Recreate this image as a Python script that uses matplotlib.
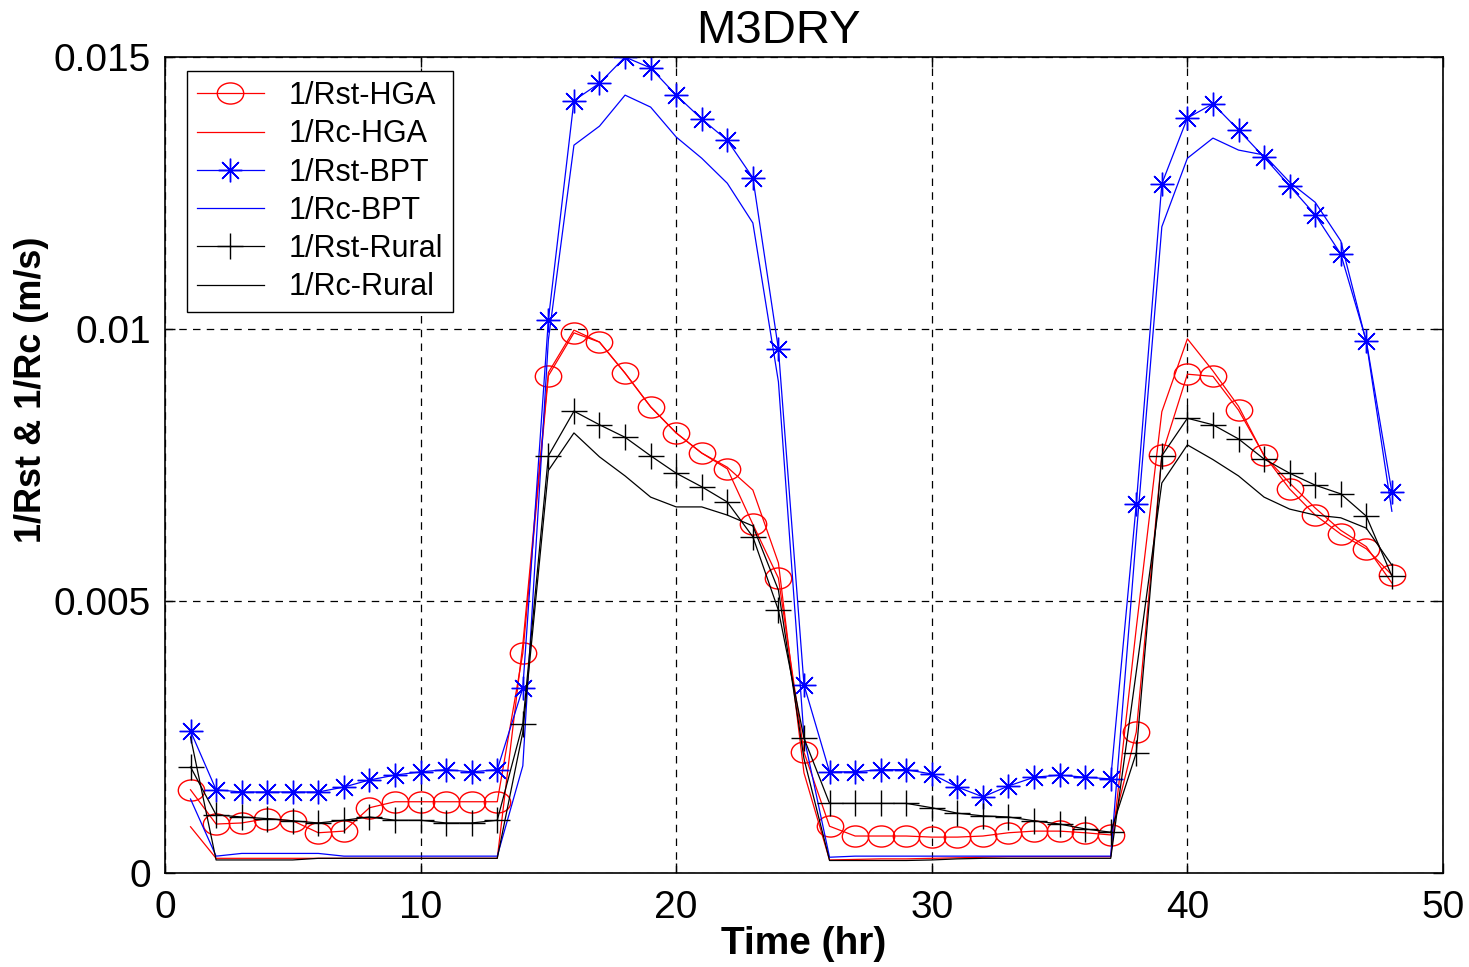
import matplotlib
matplotlib.use("Agg")
import matplotlib.pyplot as plt
import numpy as np
from matplotlib.path import Path
from matplotlib.transforms import Affine2D

plt.rcParams['font.family'] = ['Liberation Sans', 'DejaVu Sans']

hours = list(range(1, 49))

rst_hga = [0.00153, 0.0009, 0.00092, 0.001, 0.00096, 0.00074, 0.00077, 0.0012,
           0.00131, 0.00131, 0.00131, 0.00131, 0.00131, 0.00404, 0.00914, 0.00993,
           0.00976, 0.00919, 0.00857, 0.00809, 0.00772, 0.00743, 0.00641, 0.00542,
           0.00222, 0.00086, 0.00068, 0.00068, 0.00068, 0.00066, 0.00066, 0.00068,
           0.00074, 0.00077, 0.00077, 0.00074, 0.0007, 0.00259, 0.00768, 0.00917,
           0.00913, 0.00851, 0.00768, 0.00706, 0.00658, 0.00623, 0.00596, 0.00548]

rc_hga = [0.00085, 0.00027, 0.00027, 0.00027, 0.00027, 0.00027, 0.00027, 0.00027,
          0.00027, 0.00027, 0.00027, 0.00027, 0.00027, 0.0042, 0.0092, 0.00998,
          0.00976, 0.00919, 0.00857, 0.00809, 0.00772, 0.00746, 0.00704, 0.0057,
          0.00184, 0.00024, 0.00025, 0.00026, 0.00026, 0.00027, 0.00028, 0.00029,
          0.0003, 0.0003, 0.0003, 0.0003, 0.0003, 0.0045, 0.00848, 0.00982,
          0.00923, 0.00858, 0.00767, 0.00717, 0.00671, 0.0063, 0.006, 0.00533]

rst_bpt = [0.00261, 0.00153, 0.00149, 0.00149, 0.00149, 0.00149, 0.00158, 0.00171,
           0.0018, 0.00186, 0.0019, 0.00186, 0.0019, 0.0034, 0.01017, 0.0142,
           0.01452, 0.0150, 0.0148, 0.0143, 0.01386, 0.01347, 0.01278, 0.00963,
           0.00346, 0.00186, 0.00186, 0.0019, 0.0019, 0.00182, 0.00158, 0.0014,
           0.0016, 0.00176, 0.0018, 0.00176, 0.00173, 0.00678, 0.01267, 0.01388,
           0.01414, 0.01366, 0.01316, 0.01263, 0.0121, 0.01138, 0.00978, 0.007]

rc_bpt = [0.00136, 0.00031, 0.00036, 0.00036, 0.00036, 0.00036, 0.00031, 0.00031,
          0.00031, 0.00031, 0.00031, 0.00031, 0.00031, 0.00197, 0.0098, 0.01338,
          0.01373, 0.0143, 0.01408, 0.01353, 0.01314, 0.01268, 0.01195, 0.00903,
          0.0025, 0.00029, 0.00031, 0.00031, 0.00031, 0.00031, 0.00031, 0.00031,
          0.00031, 0.00031, 0.00031, 0.00031, 0.00031, 0.0062, 0.01188, 0.01314,
          0.01351, 0.01329, 0.0132, 0.0127, 0.01233, 0.01162, 0.00976, 0.00665]

rst_rural = [0.00195, 0.00107, 0.00103, 0.001, 0.00096, 0.00092, 0.00097, 0.00103,
             0.00097, 0.00097, 0.00092, 0.00092, 0.00097, 0.00274, 0.00767, 0.00849,
             0.00824, 0.00801, 0.00767, 0.00735, 0.0071, 0.00682, 0.00618, 0.00483,
             0.00248, 0.00128, 0.00128, 0.00128, 0.00128, 0.0012, 0.0011, 0.00105,
             0.00103, 0.00096, 0.0009, 0.00081, 0.00075, 0.00221, 0.00767, 0.00836,
             0.00824, 0.00798, 0.00761, 0.00735, 0.00713, 0.00697, 0.00656, 0.00546]

rc_rural = [0.0025, 0.00024, 0.00024, 0.00024, 0.00024, 0.00027, 0.00027, 0.00027,
            0.00027, 0.00027, 0.00027, 0.00027, 0.00027, 0.00259, 0.0074, 0.00809,
            0.00765, 0.0073, 0.00691, 0.00673, 0.00673, 0.00658, 0.00638, 0.0052,
            0.0021, 0.00023, 0.00023, 0.00023, 0.00023, 0.00024, 0.00026, 0.00027,
            0.00027, 0.00027, 0.00027, 0.00027, 0.00027, 0.0037, 0.00717, 0.00787,
            0.0076, 0.0073, 0.00691, 0.00669, 0.00658, 0.00653, 0.00634, 0.00566]

# matlab circles come out as ellipses in the stretched figure
ellipse = Path.unit_circle().transformed(Affine2D().scale(1.25, 1.0))
star = (8, 2, 0)

fig = plt.figure(figsize=(14.69, 9.67), dpi=100)
ax = fig.add_axes([0.1123, 0.0972, 0.8700, 0.8438])

lw = 0.9
ax.plot(hours, rst_hga, color='red', lw=lw, marker=ellipse, ms=19,
        mfc='none', mec='red', mew=1.0, label='1/Rst-HGA')
ax.plot(hours, rc_hga, color='red', lw=lw, label='1/Rc-HGA')
ax.plot(hours, rst_bpt, color='blue', lw=lw, marker=star, ms=17,
        mec='blue', mew=1.0, label='1/Rst-BPT')
ax.plot(hours, rc_bpt, color='blue', lw=lw, label='1/Rc-BPT')
ax.plot(hours, rst_rural, color='black', lw=lw, marker='+', ms=19,
        mec='black', mew=1.0, label='1/Rst-Rural')
ax.plot(hours, rc_rural, color='black', lw=lw, label='1/Rc-Rural')

ax.set_xlim(0, 50)
ax.set_ylim(0, 0.015)
ax.set_xticks([0, 10, 20, 30, 40, 50])
ax.set_yticks([0, 0.005, 0.01, 0.015])
ax.set_yticklabels(['0', '0.005', '0.01', '0.015'])
ax.tick_params(direction='in', length=7, width=1, labelsize=28,
               top=True, right=True)
ax.tick_params(axis='x', pad=12)
ax.tick_params(axis='y', pad=10)
ax.grid(True, color='black', linestyle=(0, (6, 5)), linewidth=0.9)
for sp in ax.spines.values():
    sp.set_linewidth(1.2)

ax.set_title('M3DRY', fontsize=34, x=0.48, pad=10)
ax.set_xlabel('Time (hr)', fontsize=28, fontweight='bold', labelpad=0)
ax.set_ylabel('1/Rst & 1/Rc (m/s)', fontsize=26, fontweight='bold')
ax.yaxis.set_label_coords(-0.091, 0.592)

leg = ax.legend(loc='upper left', bbox_to_anchor=(0.017, 0.983),
                borderaxespad=0, fontsize=22, fancybox=False, framealpha=1,
                edgecolor='black', handlelength=2.2, labelspacing=0.27,
                handletextpad=0.8, borderpad=0.33)
leg.get_frame().set_linewidth(1.0)

fig.savefig('out.png', dpi=100)
